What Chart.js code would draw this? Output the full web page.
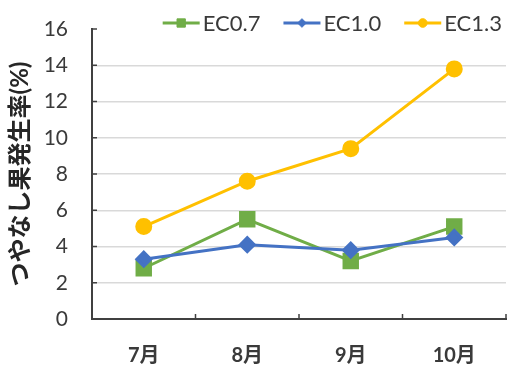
<!DOCTYPE html>
<html>
<head>
<meta charset="utf-8">
<script src="https://cdn.jsdelivr.net/npm/chart.js@4/dist/chart.umd.min.js"></script>
<style>
  html, body { margin: 0; padding: 0; background: #ffffff; }
  #wrap { width: 508px; height: 372px; }
</style>
</head>
<body>
<div id="wrap"><canvas id="c" width="508" height="372"></canvas></div>
<script>
// Months on the category axis
const months = ['7月', '8月', '9月', '10月'];
// Incidence of dull (non-glossy) fruit, % — one series per EC level
const ec07 = [2.8, 5.5, 3.2, 5.1];
const ec10 = [3.3, 4.1, 3.8, 4.5];
const ec13 = [5.1, 7.6, 9.4, 13.8];
// Y axis range and step
const yMin = 0;
const yMax = 16;
const yStep = 2;
const yTitle = 'つやなし果発生率(%)';

const FONT = "'Lato', 'Noto Sans CJK JP', sans-serif";
const TEXT = '#3a3a3a';

// Draws the line+marker legend and the short inward axis ticks
const decor = {
  id: 'decor',
  afterDraw(chart) {
    const ctx = chart.ctx;
    const xs = chart.scales.x;
    const ys = chart.scales.y;
    ctx.save();
    // inward ticks on the value axis
    ctx.strokeStyle = '#404040';
    ctx.lineWidth = 1.5;
    for (let v = yMin; v <= yMax; v += yStep) {
      const y = ys.getPixelForValue(v);
      ctx.beginPath();
      ctx.moveTo(xs.left, y);
      ctx.lineTo(xs.left + 5, y);
      ctx.stroke();
    }
    // inward ticks between categories
    const n = months.length;
    for (let i = 1; i <= n; i++) {
      const x = xs.left + (xs.right - xs.left) * i / n;
      ctx.beginPath();
      ctx.moveTo(x, ys.bottom);
      ctx.lineTo(x, ys.bottom - 5);
      ctx.stroke();
    }
    // legend
    ctx.font = '22px ' + FONT;
    ctx.textBaseline = 'middle';
    ctx.textAlign = 'left';
    const lineLen = 37, gap = 3, itemGap = 23;
    const items = chart.data.datasets.map(ds => ({ ds, w: ctx.measureText(ds.label).width }));
    let total = 0;
    items.forEach((it, i) => { total += lineLen + gap + it.w + (i < items.length - 1 ? itemGap : 0); });
    let x = chart.chartArea.right - 4 - total;
    const ly = 23;
    items.forEach(it => {
      const ds = it.ds;
      ctx.strokeStyle = ds.borderColor;
      ctx.lineWidth = ds.borderWidth;
      ctx.beginPath();
      ctx.moveTo(x, ly);
      ctx.lineTo(x + lineLen, ly);
      ctx.stroke();
      ctx.fillStyle = ds.pointBackgroundColor;
      ctx.strokeStyle = ds.pointBorderColor;
      ctx.lineWidth = 1;
      Chart.helpers.drawPoint(ctx, { pointStyle: ds.pointStyle, rotation: 0, borderWidth: 1, radius: ds.pointRadius * 0.62 }, x + lineLen / 2, ly);
      ctx.fillStyle = TEXT;
      ctx.fillText(ds.label, x + lineLen + gap, ly + 1);
      x += lineLen + gap + it.w + itemGap;
    });
    ctx.restore();
  }
};

function series(label, data, color, style, radius, order) {
  return {
    label, data, order,
    borderColor: color,
    backgroundColor: color,
    pointBackgroundColor: color,
    pointBorderColor: color,
    pointStyle: style,
    pointRadius: radius,
    pointHoverRadius: radius,
    borderWidth: 3,
    tension: 0
  };
}

new Chart(document.getElementById('c'), {
  type: 'line',
  data: {
    labels: months,
    datasets: [
      series('EC0.7', ec07, '#70AD47', 'rect', 9.5, 1),
      series('EC1.0', ec10, '#4472C4', 'rectRot', 7, 0),
      series('EC1.3', ec13, '#FFC000', 'circle', 7, 2)
    ]
  },
  options: {
    responsive: false,
    animation: false,
    layout: { autoPadding: false, padding: { top: 29, right: 2, bottom: 0, left: 0 } },
    plugins: { legend: { display: false }, tooltip: { enabled: false } },
    scales: {
      x: {
        offset: true,
        grid: { display: false, drawTicks: false },
        border: { display: true, color: '#404040', width: 2 },
        ticks: { color: TEXT, padding: 25, font: { family: FONT, size: 20, weight: 'bold' } },
        afterFit(s) { s.height = 53; }
      },
      y: {
        min: yMin,
        max: yMax,
        grid: {
          drawTicks: true,
          tickLength: 20,
          tickColor: 'rgba(0,0,0,0)',
          lineWidth: 1.5,
          color: c => (c.tick.value === yMax || c.tick.value === yMin) ? 'rgba(0,0,0,0)' : '#d9d9d9'
        },
        border: { display: true, color: '#404040', width: 2 },
        ticks: { stepSize: yStep, color: TEXT, padding: 4, font: { family: FONT, size: 21 } },
        title: {
          display: true,
          text: yTitle,
          color: '#262626',
          padding: { top: 6, bottom: 0 },
          font: { family: FONT, size: 24, weight: 'bold' }
        },
        afterFit(s) { s.width = 92; }
      }
    }
  },
  plugins: [decor]
});
</script>
</body>
</html>
